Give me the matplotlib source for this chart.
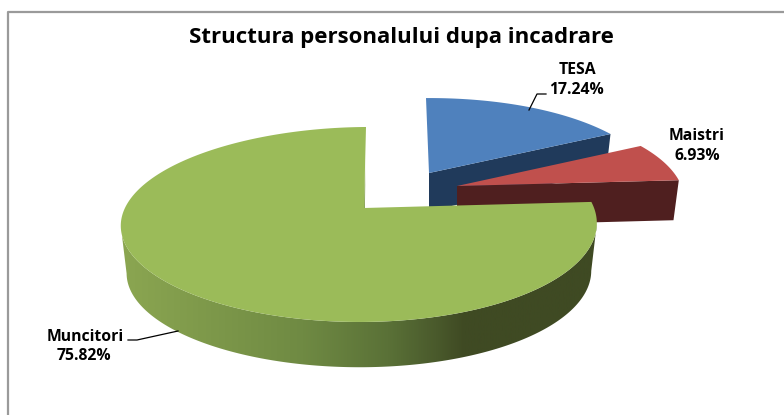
import numpy as np
import matplotlib
matplotlib.use("Agg")
import matplotlib.pyplot as plt
from matplotlib.patches import Polygon
from matplotlib.colors import LinearSegmentedColormap

TITLE = "Structura personalului dupa incadrare"
categories = ["TESA", "Maistri", "Muncitori"]
shares = [17.24, 6.93, 75.82]
top_colors = ["#4F81BD", "#C0504D", "#9BBB59"]
wall_colors = ["#203A5B", "#4F1F1F", "#3F4A23"]

plt.rcParams["font.family"] = ["Open Sans", "DejaVu Sans"]
fig = plt.figure(figsize=(7.84, 4.15), dpi=100, facecolor="white")
ax = fig.add_axes([0, 0, 1, 1])
ax.set_xlim(0, 784)
ax.set_ylim(415, 0)
ax.axis("off")

K = 0.169
A = 94.7
B = 234.6


def rim(t, apex, sx, sy, shear=0.0, skew=5.0, tilt=1.2):
    """Perspective map of a circle point (clockwise angle t from 12 o'clock)."""
    u, v = np.sin(t), np.cos(t)
    d = 1 + K * v
    x = apex[0] + sx * (B * u / d - skew * u ** 2) + shear * v
    y = apex[1] - sy * (A * v / d + tilt * u)
    return x, y


fractions = np.array(shares) / sum(shares)
edges = np.concatenate([[0], np.cumsum(fractions)]) * 2 * np.pi
apexes = [(429, 173), (457, 186), (364, 208)]
x_scales = [0.972, 0.976, 1.0]
y_scales = [0.925, 0.95, 1.0]
shears = [-3.0, 0.0, 2.0]
depths = [38, 40, 47]
low_scale = 0.976

# back slices: radial wall then top
for i in [0, 1]:
    t = np.linspace(edges[i], edges[i + 1], 240)
    ap = apexes[i]
    x, y = rim(t, ap, x_scales[i], y_scales[i], shears[i])
    d = depths[i]
    ex, ey = x[-1], y[-1]
    bx = ap[0] + (ex - ap[0]) * low_scale
    wall = [(ap[0], ap[1]), (ex, ey), (bx, ey + d), (ap[0], ap[1] + d)]
    ax.add_patch(Polygon(wall, closed=True, fc=wall_colors[i], ec="none", zorder=2 + i))
    ax.add_patch(Polygon(np.column_stack([np.r_[ap[0], x], np.r_[ap[1], y]]),
                         closed=True, fc=top_colors[i], ec="none", zorder=2.5 + i))

# green slice: outer side wall with a horizontal gradient, then top
ap = apexes[2]
tt = np.linspace(edges[2], edges[3], 900)
xt, yt = rim(tt, ap, 1.0, 1.0, shears[2])
xl, yl = rim(tt, (ap[0], ap[1] + depths[2] + 1), low_scale, low_scale, shears[2])
ti0, ti1 = np.argmax(xt), np.argmin(xt)
li0, li1 = np.argmax(xl), np.argmin(xl)
poly = np.column_stack([np.r_[xt[ti0:ti1 + 1], xl[li0:li1 + 1][::-1]],
                        np.r_[yt[ti0:ti1 + 1], yl[li0:li1 + 1][::-1]]])
cmap = LinearSegmentedColormap.from_list(
    "side",
    [(0.0, "#8BA651"), (0.16, "#7F9A4B"), (0.38, "#6F8A43"), (0.56, "#5A7137"),
     (0.66, "#4A5A2C"), (0.72, "#3F4A23"), (1.0, "#3F4A23")],
)
grad = np.linspace(0, 1, 512).reshape(1, -1)
im = ax.imshow(grad, extent=(122, 598, 415, 0), cmap=cmap, aspect="auto", zorder=5)
im.set_clip_path(Polygon(poly, closed=True, transform=ax.transData))
ax.set_xlim(0, 784)
ax.set_ylim(415, 0)

# thin visible sliver of the wall at the vertical cut
ax.add_patch(Polygon([(ap[0] + 1.0, 160), (ap[0] + 1.2, 185), (ap[0] + 0.9, ap[1]), (ap[0], ap[1])],
                     closed=True, fc="#7F9A4B", ec="none", zorder=5.5))
ax.add_patch(Polygon(np.column_stack([np.r_[ap[0], xt], np.r_[ap[1], yt]]),
                     closed=True, fc=top_colors[2], ec="none", zorder=6))

# chart frame: only the left and top edges lie inside the picture
ax.plot([8, 8, 784], [415, 12.5, 12.5], color="#9A9A9A", lw=1.6, solid_capstyle="butt", zorder=1)

# text
ax.text(401.5, 37, TITLE, ha="center", va="center", fontsize=16.0, fontweight="bold", color="black", zorder=9)
labels = [(577, 70, 576, 90), (697, 136, 697, 156), (85, 337, 84, 356)]
for cat, share, (x1, y1, x2, y2) in zip(categories, shares, labels):
    ax.text(x1, y1, cat, ha="center", va="center", fontsize=11.3, fontweight="bold", color="black", zorder=9)
    ax.text(x2, y2, f"{share:.2f}%", ha="center", va="center", fontsize=11.3, fontweight="bold", color="black", zorder=9)

# leader lines
ax.plot([529, 537, 546], [110, 94, 94], color="black", lw=0.9, zorder=8)
ax.plot([128, 137, 178], [340, 340, 331], color="black", lw=0.9, zorder=8)

fig.savefig("out.png", dpi=100, facecolor="white")
